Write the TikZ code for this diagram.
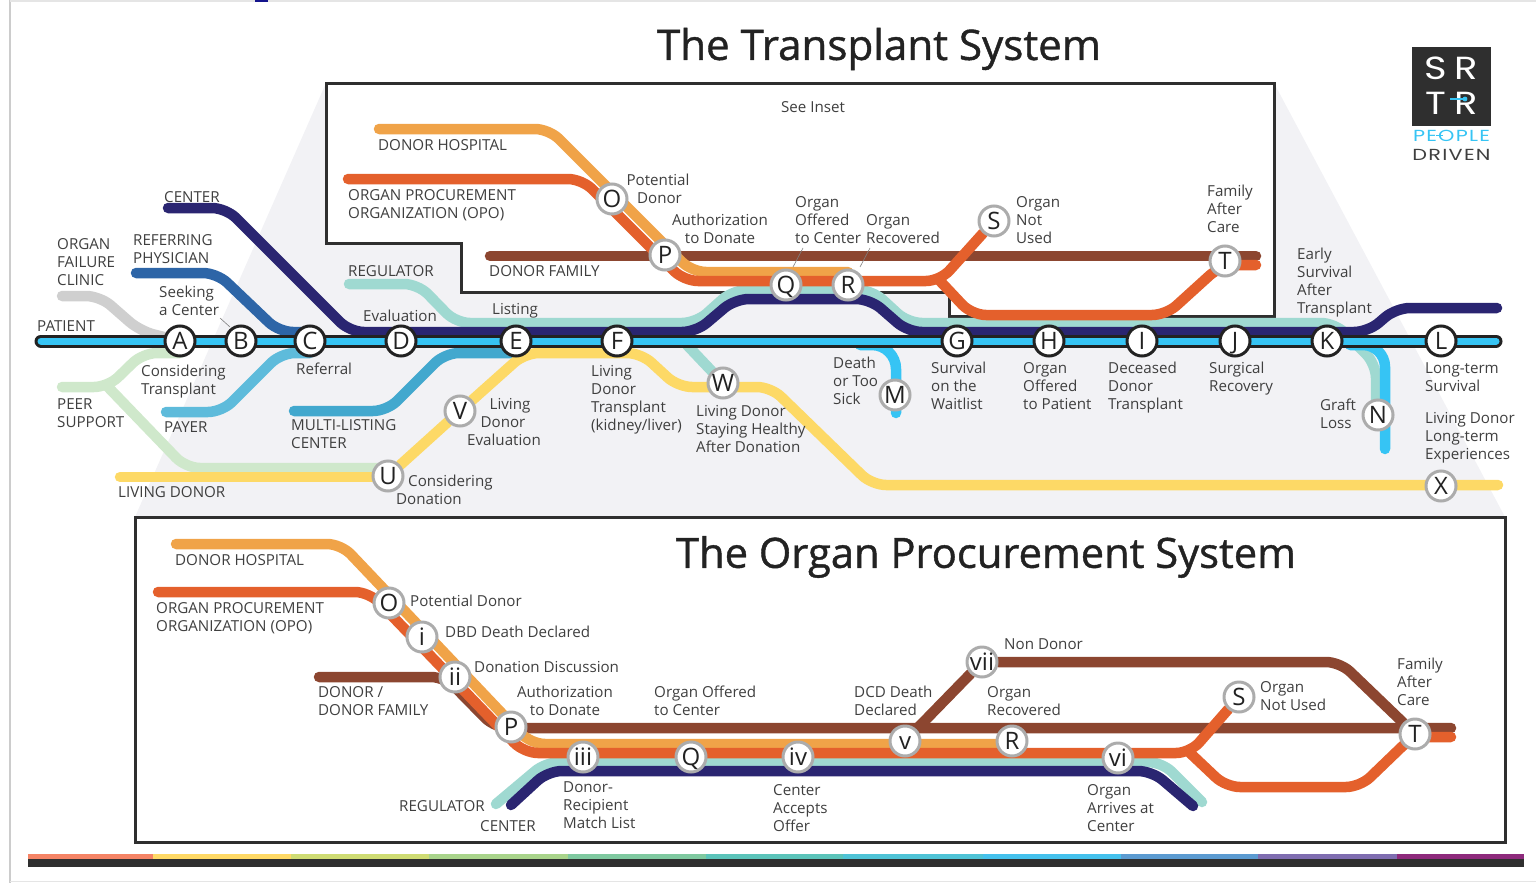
\documentclass[tikz,border=0pt]{standalone}
\usepackage{fontspec}
\setmainfont{Open Sans}
\newfontfamily\titlefont[FakeBold=1]{Open Sans}
\newfontfamily\logofont[LetterSpace=6]{Poppins}
\usetikzlibrary{calc,backgrounds}
\definecolor{cyanl}{HTML}{36C4F4}
\definecolor{outl}{HTML}{222222}
\definecolor{navyl}{HTML}{2A2571}
\definecolor{teall}{HTML}{9FD9D1}
\definecolor{orangel}{HTML}{F0A348}
\definecolor{redl}{HTML}{E4602C}
\definecolor{brownl}{HTML}{8C4630}
\definecolor{yellowl}{HTML}{FDD966}
\definecolor{greenl}{HTML}{CFE8CB}
\definecolor{grayl}{HTML}{CFCFCF}
\definecolor{bluel}{HTML}{2D65A7}
\definecolor{payerl}{HTML}{5EBBDB}
\definecolor{multil}{HTML}{42A8CE}
\definecolor{shadec}{HTML}{F2F2F5}
\definecolor{ink}{HTML}{3F3F3F}
\definecolor{frame}{HTML}{2F2F2F}
\tikzset{
  rail/.style={line width=10.5pt,line cap=round,line join=round,rounded corners=14pt},
  stn/.style={circle,fill=white,draw=outl,line width=3pt,minimum size=30pt,inner sep=0pt,
    text=outl,font=\fontsize{24}{24}\selectfont,text height=17pt,text depth=0pt},
  sub/.style={stn,draw=gray!65},
  lbl/.style={anchor=west,align=left,inner sep=0pt,text=ink,yshift=-2.5pt,
    font=\fontsize{15.15}{18}\selectfont,execute at begin node={\strut},execute at end node={\strut}},
  clbl/.style={lbl,anchor=center,align=center},
  ttl/.style={inner sep=0pt,text=outl,font=\titlefont\fontsize{42.1}{42}\selectfont},
  leader/.style={line width=.6pt,draw=gray},
  boxline/.style={draw=frame,line width=3pt,line join=miter},
  logoletter/.style={text=white,inner sep=0pt,font=\logofont\fontsize{32}{32}\selectfont}
}
\begin{document}
\begin{tikzpicture}[x=1pt,y=-1pt]
\useasboundingbox (0,0) rectangle (1536,883);
% stations, main line
\foreach \n/\t/\x in {A/A/180,B/B/241,C/C/310,D/D/401,E/E/516,F/F/617,G/G/957,H/H/1049,I/I/1142,J/J/1235,K/K/1327,L/L/1441}
  \node[stn] (\n) at (\x,341) {\t};
\node[sub] (O) at (612,199) {O};
\node[sub] (P) at (665,255) {P};
\node[sub] (Q) at (786,285) {Q};
\node[sub] (R) at (848,285) {R};
\node[sub] (S) at (994,221) {S};
\node[sub] (T) at (1225,261) {T};
\node[sub] (M) at (895,395) {M};
\node[sub] (N) at (1378,415) {N};
\node[sub] (W) at (723,383) {W};
\node[sub] (V) at (460,411) {V};
\node[sub] (U) at (388,476) {U};
\node[sub] (X) at (1441,486) {X};
% stations, procurement
\node[sub] (lO) at (389,603) {O};
\node[sub] (li) at (422,637) {i};
\node[sub] (lii) at (455,677) {ii};
\node[sub] (lP) at (511,727) {P};
\node[sub] (liii) at (583,757) {iii};
\node[sub] (lQ) at (691,757) {Q};
\node[sub] (liv) at (798,757) {iv};
\node[sub] (lv) at (905,741) {v};
\node[sub] (lR) at (1012,741) {R};
\node[sub] (lvi) at (1118,758) {vi};
\node[sub] (lvii) at (982,662) {vii};
\node[sub] (lS) at (1239,697) {S};
\node[sub] (lT) at (1415,734) {T};
% free ends
\coordinate (patientS) at (41,341);
\coordinate (patientE) at (1496,341);
\coordinate (centerS) at (168,208);
\coordinate (centerE) at (1497,308);
\coordinate (physS) at (136,273);
\coordinate (clinicS) at (62,296);
\coordinate (regS) at (349,284);
\coordinate (peerS) at (62,387);
\coordinate (fork) at (108,387);
\coordinate (payS) at (166,412);
\coordinate (multiS) at (294,411);
\coordinate (livS) at (120,477);
\coordinate (xE) at (1498,485);
\coordinate (hospS) at (379,129);
\coordinate (opoS) at (348,179);
\coordinate (famS) at (490,256);
\coordinate (famE) at (1256,256);
\coordinate (redE) at (1256,265);
\coordinate (mE) at (896,413);
\coordinate (nE) at (1382,449);
\coordinate (lhospS) at (176,544);
\coordinate (lopoS) at (158,592);
\coordinate (lfamS) at (319,677);
\coordinate (lfamE) at (1451,728);
\coordinate (lredE) at (1451,737);
\coordinate (lregS) at (496,804);
\coordinate (lregE) at (1202,802);
\coordinate (lcenS) at (511,805);
\coordinate (lcenE) at (1193,806);
\begin{scope}[on background layer]
  % page edge
  \draw[line width=2.5pt,draw=gray!40] (10,0) -- (10,883);
  \draw[line width=1.5pt,draw=gray!20] (10,1) -- (1536,1);
  \draw[line width=1.5pt,draw=gray!20] (10,881.5) -- (1536,881.5);
  \fill[fill={rgb,255:red,20;green,20;blue,140}] (255,0) rectangle (268,2);
  % shaded zoom area and the inset
  \fill[shadec] (326,83) -- (1274,83) -- (1505,517) -- (135,517) -- cycle;
  \path[fill=white,boxline] (326,83) -- (1274,83) -- (1274,316) -- (949,316) -- (949,292) -- (461,292) -- (461,243) -- (326,243) -- cycle;
  % transplant lines
  \draw[rail,grayl] (clinicS) -- (100,296) -- (140,331) -- (A);
  \draw[rail,greenl] (peerS) -- (fork) -- (143,353) -- ($(A)+(0,12)$);
  \draw[rail,greenl] (fork) -- (186,468) -- ($(U)+(0,-8)$);
  \draw[rail,bluel] (physS) -- (217,273) -- (279,332) -- ($(C)+(0,-9)$);
  \draw[rail,payerl] (payS) -- (222,412) -- (281,353) -- ($(C)+(0,12)$);
  \draw[rail,multil] (multiS) -- (387,411) -- (445,353) -- ($(E)+(0,12)$);
  \draw[rail,teall] (regS) -- (418,284) -- (456,323) -- (696,323) -- (733,290) -- (872,290) -- (908,323) -- (1335,323) -- (1376,364) -- (1376,415);
  \draw[rail,navyl] (centerS) -- (226,208) -- (350,332) -- (696,332) -- (735,299) -- (870,299) -- (908,332) -- (1368,332) -- (1396,308) -- (centerE);
  \draw[rail,teall,rounded corners=0pt] (687,345) -- (W);
  \draw[rail,yellowl] (livS) -- ($(U)+(0,1)$);
  \draw[rail,yellowl] (U) -- (V) -- (525,353) -- (641,353) -- (678,387) -- (771,387) -- (872,485) -- (xE);
  \draw[rail,cyanl,rounded corners=24pt] (860,345) -- (896,345) -- (mE);
  \draw[rail,cyanl,rounded corners=22pt] (1350,345) -- (1385,345) -- (1385,449);
  % inset lines
  \draw[rail,brownl] (famS) -- (famE);
  \draw[rail,orangel] (hospS) -- (549,129) -- (692,272) -- ($(R)+(0,-13)$);
  \draw[rail,redl] (opoS) -- (582,179) -- (684,281) -- (940,281) -- (S);
  \draw[rail,redl] (940,281) -- (972,315) -- (1166,315) -- ($(T)+(-5,5)$) -- ($(T)+(5,4)$) -- (redE);
  % procurement lines
  \draw[rail,brownl] (lfamS) -- ($(lii)+(-10,0)$) -- (495,728) -- (lfamE);
  \draw[rail,brownl] (lv) -- (lvii) -- (1340,662) -- (lT);
  \draw[rail,teall] (lregS) -- (546,762) -- (1162,762) -- (lregE);
  \draw[rail,navyl] (lcenS) -- (548,771) -- (1152,771) -- (lcenE);
  \draw[rail,orangel] (lhospS) -- (341,544) -- (531,744) -- ($(lR)+(0,3)$);
  \draw[rail,redl] (lopoS) -- (369,592) -- (524,753) -- (1190,753) -- (lS);
  \draw[rail,redl] (1190,753) -- (1226,787) -- (1360,787) -- ($(lT)+(-3,3)$) -- ($(lT)+(5,3)$) -- (lredE);
  % main line
  \draw[line width=13pt,outl,line cap=round] (patientS) -- (patientE);
  \draw[line width=7pt,cyanl,line cap=round] (patientS) -- (patientE);
  % frame and stripes
  \path[fill=none,boxline] (135,517) rectangle (1505,842);
  \foreach \a/\b/\c in {28/153/F58466,153/291/FFD966,291/429/CFDC74,429/568/A9D48B,568/706/7FC9A0,706/843/5CC4BA,843/983/4FC3D6,983/1121/45C1EC,1121/1258/5C9BD1,1258/1397/7F6DB0,1397/1524/8E2A7C}{
    \definecolor{tmpc}{HTML}{\c}
    \fill[tmpc] (\a,853.5) rectangle (\b,859.5);
  }
  \fill[fill=frame] (28,859) rectangle (1524,867);
\end{scope}
% titles
\node[ttl] (title1) at (879,49) {The Transplant System};
\node[ttl,font=\titlefont\fontsize{41.7}{42}\selectfont] (title2) at (986,557) {The Organ Procurement System};
% logo
\node[fill=frame,minimum size=79pt,inner sep=0pt] (logo) at (1451.5,86.5) {};
\node[logoletter] (logoS) at (1436,68) {\scalebox{1.2}[1]{S}};
\node[logoletter] (logoRa) at (1466,68) {\scalebox{1.2}[1]{R}};
\node[logoletter] (logoT) at (1436,103) {\scalebox{1.2}[1]{T}};
\node[logoletter] (logoRb) at (1466,103) {\scalebox{1.2}[1]{R}};
\draw[line width=1.6pt,cyanl] (1450,99) -- (1465,99);
\fill[cyanl] (1465,99) circle (2.4pt);
\node[text=cyanl,inner sep=0pt,font=\logofont\fontsize{16}{16}\selectfont] (logoC) at (1451.5,136) {\scalebox{1.3}[1]{PEOPLE}};
\draw[line width=1pt,cyanl] (1436,135.5) -- (1443,135.5);
\node[text=ink,inner sep=0pt,font=\logofont\fontsize{16}{16}\selectfont] (logoD) at (1451.5,155) {\scalebox{1.3}[1]{DRIVEN}};
% labels, top
\node[clbl] (seeinset) at (813,106) {See Inset};
\node[lbl] at (378,144) {DONOR HOSPITAL};
\node[lbl] at (348,204) {ORGAN PROCUREMENT\\ORGANIZATION (OPO)};
\node[lbl] at (489,270) {DONOR FAMILY};
\node[clbl] at (658,189) {Potential\\\hspace*{3pt}Donor};
\node[clbl] at (720,229) {Authorization\\to Donate};
\node[lbl] (tq) at (795,220) {Organ\\Offered\\to Center};
\node[lbl] (tr) at (866,229) {Organ\\Recovered};
\node[lbl] at (1016,220) {Organ\\Not\\Used};
\node[lbl] at (1207,209) {Family\\After\\Care};
\node[lbl] at (164,196) {CENTER};
\node[lbl] at (133,249) {REFERRING\\PHYSICIAN};
\node[lbl] at (57,262) {ORGAN\\FAILURE\\CLINIC};
\node[lbl] at (37,325) {PATIENT};
\node[lbl] (tb) at (159,301) {Seeking\\a Center};
\node[lbl] at (348,270) {REGULATOR};
\node[lbl] at (363,315) {Evaluation};
\node[lbl] at (492,308) {Listing};
\node[lbl] at (141,380) {Considering\\Transplant};
\node[lbl] at (296,368) {Referral};
\node[lbl] at (57,413) {PEER\\SUPPORT};
\node[lbl] at (164,426) {PAYER};
\node[lbl] at (291,434) {MULTI-LISTING\\CENTER};
\node[clbl] at (504,422) {\hspace*{12pt}Living\\\hspace*{-2pt}Donor\\Evaluation};
\node[lbl] at (118,491) {LIVING DONOR};
\node[lbl] at (396,490) {\hspace*{12pt}Considering\\Donation};
\node[lbl] at (591,398) {Living\\Donor\\Transplant\\(kidney/liver)};
\node[lbl] at (696,429) {Living Donor\\Staying Healthy\\After Donation};
\node[lbl] at (833,381) {Death\\or Too\\Sick};
\node[lbl] at (931,386) {Survival\\on the\\Waitlist};
\node[lbl] at (1023,386) {Organ\\Offered\\to Patient};
\node[lbl] at (1108,386) {Deceased\\Donor\\Transplant};
\node[lbl] at (1209,377) {Surgical\\Recovery};
\node[lbl] at (1425,377) {Long-term\\Survival};
\node[lbl] at (1297,281) {Early\\Survival\\After\\Transplant};
\node[lbl] at (1320,414) {Graft\\Loss};
\node[lbl] at (1425,436) {Living Donor\\Long-term\\Experiences};
% labels, bottom
\node[lbl] at (175,559) {DONOR HOSPITAL};
\node[lbl] at (156,617) {ORGAN PROCUREMENT\\ORGANIZATION (OPO)};
\node[lbl] at (410,600) {Potential Donor};
\node[lbl] at (445,631) {DBD Death Declared};
\node[lbl] at (474,666) {Donation Discussion};
\node[lbl] at (318,701) {DONOR /\\DONOR FAMILY};
\node[clbl] at (565,701) {Authorization\\to Donate};
\node[lbl] at (654,701) {Organ Offered\\to Center};
\node[lbl] at (854,701) {DCD Death\\Declared};
\node[lbl] at (987,701) {Organ\\Recovered};
\node[lbl] at (1004,643) {Non Donor};
\node[lbl] at (1260,696) {Organ\\Not Used};
\node[lbl] at (1397,682) {Family\\After\\Care};
\node[lbl] at (399,805) {REGULATOR};
\node[lbl] at (480,825) {CENTER};
\node[lbl] at (563,805) {Donor-\\Recipient\\Match List};
\node[lbl] at (773,808) {Center\\Accepts\\Offer};
\node[lbl] at (1087,808) {Organ\\Arrives at\\Center};
% leaders
\draw[leader] (Q) ++(7,-18) -- (803,248);
\draw[leader] (R) ++(12,-18) -- (870,248);
\draw[leader] (B) ++(-11,-14) -- (220,318);
\end{tikzpicture}
\end{document}
